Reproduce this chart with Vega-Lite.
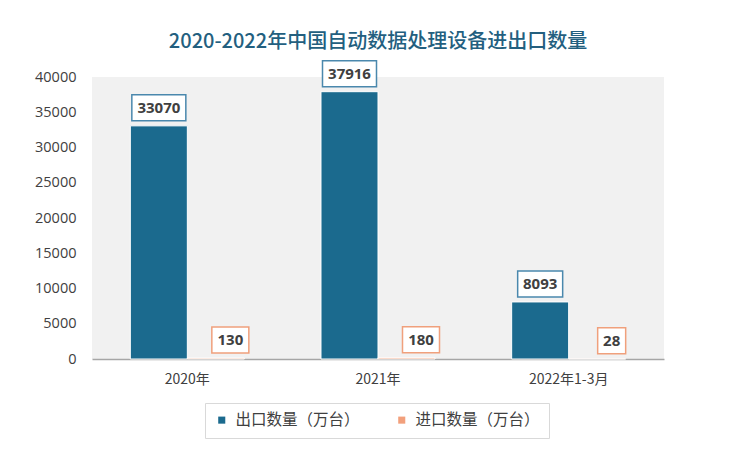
{
  "$schema": "https://vega.github.io/schema/vega-lite/v6.json",
  "width": 572,
  "height": 282,
  "autosize": {"type": "none"},
  "padding": {"left": 92, "top": 77, "right": 86, "bottom": 102},
  "background": "#ffffff",
  "config": {"view": {"fill": "#f1f1f1", "stroke": null}},
  "title": {
    "text": "2020-2022年中国自动数据处理设备进出口数量",
    "font": "Noto Sans CJK SC",
    "fontSize": 20,
    "fontWeight": 500,
    "color": "#235f7f",
    "anchor": "middle",
    "offset": 8
  },
  "data": {
    "values": [
      {"year": "2020年", "series": "出口数量（万台）", "value": 33070},
      {"year": "2020年", "series": "进口数量（万台）", "value": 130},
      {"year": "2021年", "series": "出口数量（万台）", "value": 37916},
      {"year": "2021年", "series": "进口数量（万台）", "value": 180},
      {"year": "2022年1-3月", "series": "出口数量（万台）", "value": 8093},
      {"year": "2022年1-3月", "series": "进口数量（万台）", "value": 28}
    ]
  },
  "encoding": {
    "x": {
      "field": "year",
      "type": "nominal",
      "sort": null,
      "scale": {"paddingInner": 0.402, "paddingOuter": 0.201},
      "axis": {
        "title": null,
        "labelAngle": 0,
        "ticks": false,
        "domainColor": "#a6a6a6",
        "domainWidth": 1.5,
        "labelFont": "Noto Sans CJK SC",
        "labelFontSize": 14,
        "labelColor": "#404040",
        "labelPadding": 13
      }
    },
    "y": {
      "field": "value",
      "type": "quantitative",
      "scale": {"domain": [0, 40000], "nice": false},
      "axis": {
        "title": null,
        "values": [0, 5000, 10000, 15000, 20000, 25000, 30000, 35000, 40000],
        "format": "d",
        "grid": false,
        "domain": false,
        "ticks": false,
        "labelOverlap": false,
        "labelFlush": false,
        "labelPadding": 16,
        "labelFont": "Open Sans",
        "labelFontSize": 14.5,
        "labelColor": "#404040"
      }
    }
  },
  "layer": [
    {
      "mark": {"type": "bar", "stroke": "#ffffff", "strokeWidth": 1},
      "encoding": {
        "xOffset": {
          "field": "series",
          "type": "nominal",
          "sort": ["出口数量（万台）", "进口数量（万台）"],
          "scale": {"paddingInner": 0, "paddingOuter": 0}
        },
        "color": {
          "field": "series",
          "type": "nominal",
          "sort": ["出口数量（万台）", "进口数量（万台）"],
          "scale": {"range": ["#1b6a8e", "#f2a07c"]},
          "legend": {
            "orient": "none",
            "legendX": 113,
            "legendY": 326,
            "direction": "horizontal",
            "title": null,
            "symbolType": "square",
            "symbolSize": 50,
            "symbolStrokeWidth": 0,
            "labelFont": "Noto Sans CJK SC",
            "labelFontSize": 15.5,
            "labelColor": "#404040",
            "labelOffset": 6,
            "columnPadding": 34,
            "padding": 9,
            "strokeColor": "#d9d9d9"
          }
        }
      }
    },
    {
      "transform": [{"filter": "datum.series === '出口数量（万台）' && datum.value >= 10000"}],
      "mark": {"type": "bar", "width": 54, "xOffset": -28.5, "yOffset": -5, "y2Offset": -31, "fill": "#ffffff", "stroke": "#4a88ad", "strokeWidth": 1.5},
      "encoding": {"y2": {"field": "value"}}
    },
    {
      "transform": [{"filter": "datum.series === '出口数量（万台）' && datum.value < 10000"}],
      "mark": {"type": "bar", "width": 45, "xOffset": -28.5, "yOffset": -5, "y2Offset": -31, "fill": "#ffffff", "stroke": "#4a88ad", "strokeWidth": 1.5},
      "encoding": {"y2": {"field": "value"}}
    },
    {
      "transform": [{"filter": "datum.series === '进口数量（万台）' && datum.value >= 100"}],
      "mark": {"type": "bar", "width": 37, "xOffset": 43, "yOffset": -5, "y2Offset": -31, "fill": "#ffffff", "stroke": "#f0a07c", "strokeWidth": 1.5},
      "encoding": {"y2": {"field": "value"}}
    },
    {
      "transform": [{"filter": "datum.series === '进口数量（万台）' && datum.value < 100"}],
      "mark": {"type": "bar", "width": 28, "xOffset": 43, "yOffset": -5, "y2Offset": -31, "fill": "#ffffff", "stroke": "#f0a07c", "strokeWidth": 1.5},
      "encoding": {"y2": {"field": "value"}}
    },
    {
      "transform": [{"filter": "datum.series === '出口数量（万台）'"}],
      "mark": {"type": "text", "dx": -28.5, "dy": -18, "font": "Open Sans", "fontSize": 15, "fontWeight": "bold", "color": "#404040", "baseline": "middle", "align": "center"},
      "encoding": {"text": {"field": "value", "type": "quantitative", "format": "d"}}
    },
    {
      "transform": [{"filter": "datum.series === '进口数量（万台）'"}],
      "mark": {"type": "text", "dx": 43, "dy": -18, "font": "Open Sans", "fontSize": 15, "fontWeight": "bold", "color": "#404040", "baseline": "middle", "align": "center"},
      "encoding": {"text": {"field": "value", "type": "quantitative", "format": "d"}}
    }
  ]
}
